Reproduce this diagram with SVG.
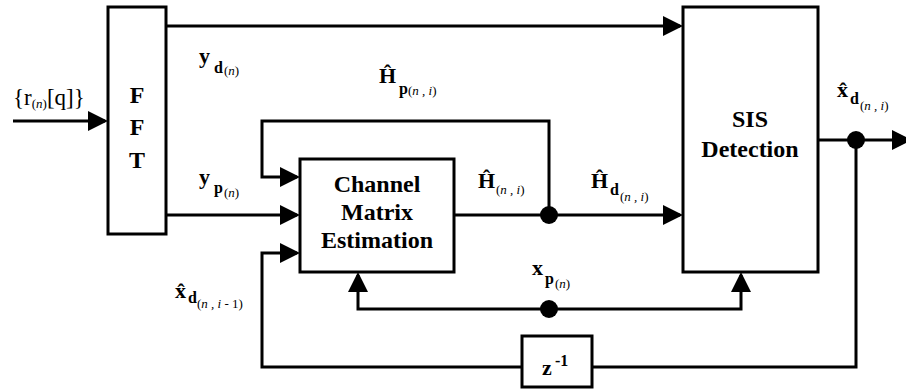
<svg xmlns="http://www.w3.org/2000/svg" width="906" height="389" viewBox="0 0 906 389">
<defs>
<marker id="ah" markerWidth="20" markerHeight="20" refX="17" refY="10" orient="auto" markerUnits="userSpaceOnUse"><path d="M0,0 L20,10 L0,20 Z" fill="#000"/></marker>
</defs>
<g id="connectors" fill="none" stroke="#000" stroke-width="3">
<path d="M13,121 H105" marker-end="url(#ah)"/>
<path d="M166,26 H680" marker-end="url(#ah)"/>
<path d="M166,215 H297" marker-end="url(#ah)"/>
<path d="M549,215 V121 H262 V177 H297" marker-end="url(#ah)"/>
<path d="M454,215 H680" marker-end="url(#ah)"/>
<path d="M549,309 H358 V275" marker-end="url(#ah)"/>
<path d="M549,309 H741 V275" marker-end="url(#ah)"/>
<path d="M818,140 H909" marker-end="url(#ah)"/>
<path d="M856,140 V367 H262 V253 H297" marker-end="url(#ah)"/>
<g fill="#000" stroke="none">
<circle cx="549" cy="215" r="9"/>
<circle cx="549" cy="309" r="9"/>
<circle cx="856" cy="140" r="9"/>
</g>
</g>
<g id="fft">
<rect x="108" y="7" width="58" height="227" fill="#fff" stroke="#000" stroke-width="3"/>
<text x="137" y="103" font-family="Liberation Serif" font-weight="bold" font-size="24" text-anchor="middle">F</text>
<text x="137" y="135" font-family="Liberation Serif" font-weight="bold" font-size="24" text-anchor="middle">F</text>
<text x="137" y="168" font-family="Liberation Serif" font-weight="bold" font-size="24" text-anchor="middle">T</text>
</g>
<g id="channel">
<rect x="300" y="159" width="154" height="113" fill="#fff" stroke="#000" stroke-width="3"/>
<text x="377" y="192" font-family="Liberation Serif" font-weight="bold" font-size="24" text-anchor="middle">Channel</text>
<text x="377" y="220" font-family="Liberation Serif" font-weight="bold" font-size="24" text-anchor="middle">Matrix</text>
<text x="377" y="248" font-family="Liberation Serif" font-weight="bold" font-size="24" text-anchor="middle">Estimation</text>
</g>
<g id="sis">
<rect x="683" y="7" width="135" height="265" fill="#fff" stroke="#000" stroke-width="3"/>
<text x="750" y="127" font-family="Liberation Serif" font-weight="bold" font-size="24" text-anchor="middle">SIS</text>
<text x="750" y="157" font-family="Liberation Serif" font-weight="bold" font-size="24" text-anchor="middle">Detection</text>
</g>
<g id="delay">
<rect x="522" y="336" width="70" height="51" fill="#fff" stroke="#000" stroke-width="3"/>
<text x="542" y="375" font-family="Liberation Serif" font-weight="bold" font-size="22">z</text>
<text x="555" y="366" font-family="Liberation Serif" font-weight="bold" font-size="16">-1</text>
</g>
<g id="labels">
<text x="13" y="105" font-family="Liberation Serif" font-size="23">{r<tspan font-size="13" dy="3">(<tspan font-style="italic">n</tspan>)</tspan><tspan dy="-3">[q]}</tspan></text>
<text x="199" y="63" font-family="Liberation Serif" font-size="22" font-weight="bold">y<tspan font-size="16" x="214" y="73">d</tspan><tspan font-size="13" font-weight="normal" x="224" y="75">(<tspan font-style="italic">n</tspan>)</tspan></text>
<text x="199" y="184" font-family="Liberation Serif" font-size="22" font-weight="bold">y<tspan font-size="16" x="214" y="193">p</tspan><tspan font-size="13" font-weight="normal" x="224" y="197">(<tspan font-style="italic">n</tspan>)</tspan></text>
<text x="379" y="83" font-family="Liberation Serif" font-size="22" font-weight="bold">Ĥ<tspan font-size="16" x="399" y="94">p</tspan><tspan font-size="13" font-weight="normal" x="408" y="95">(<tspan font-style="italic">n , i</tspan>)</tspan></text>
<text x="478" y="188" font-family="Liberation Serif" font-size="22" font-weight="bold">Ĥ<tspan font-size="13" font-weight="normal" x="496" y="194">(<tspan font-style="italic">n , i</tspan>)</tspan></text>
<text x="591" y="188" font-family="Liberation Serif" font-size="22" font-weight="bold">Ĥ<tspan font-size="16" x="610" y="195">d</tspan><tspan font-size="13" font-weight="normal" x="620" y="201">(<tspan font-style="italic">n , i</tspan>)</tspan></text>
<text x="837" y="97" font-family="Liberation Serif" font-size="22" font-weight="bold">x̂<tspan font-size="16" x="850" y="104">d</tspan><tspan font-size="13" font-weight="normal" x="860" y="110">(<tspan font-style="italic">n , i</tspan>)</tspan></text>
<text x="532" y="275" font-family="Liberation Serif" font-size="22" font-weight="bold">x<tspan font-size="16" x="545" y="284">p</tspan><tspan font-size="13" font-weight="normal" x="555" y="288">(<tspan font-style="italic">n</tspan>)</tspan></text>
<text x="175" y="298" font-family="Liberation Serif" font-size="22" font-weight="bold">x̂<tspan font-size="16" x="188" y="303">d</tspan><tspan font-size="13" font-weight="normal" x="197" y="308">(<tspan font-style="italic">n , i</tspan> - 1)</tspan></text>
</g>
</svg>
